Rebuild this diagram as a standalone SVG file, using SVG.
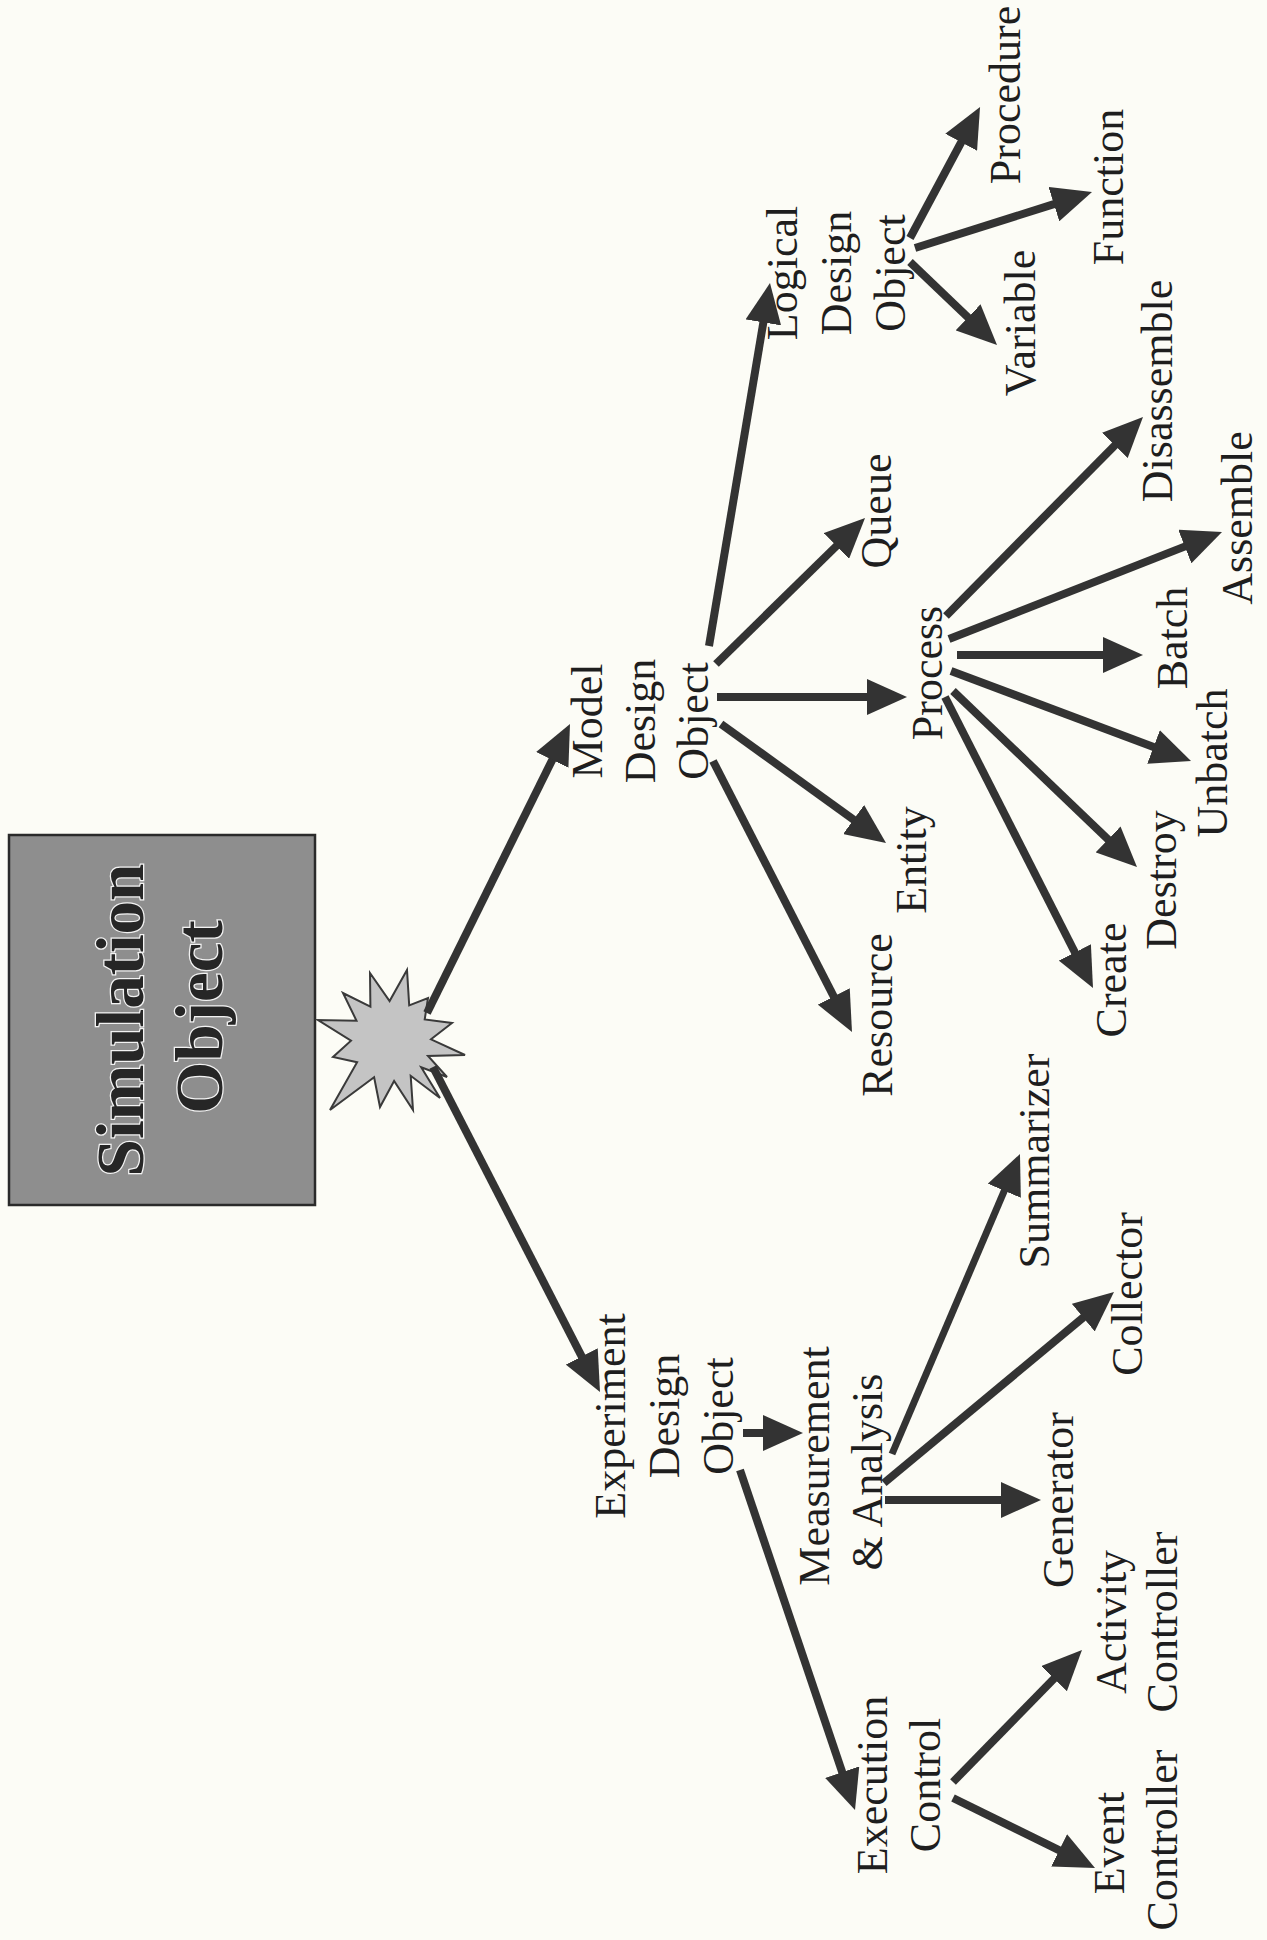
<svg xmlns="http://www.w3.org/2000/svg" width="1267" height="1940" viewBox="0 0 1267 1940">
<defs>
<style>
.lbl{font-family:"Liberation Serif","Times New Roman",serif;font-size:44px;fill:#1e1e1e;text-anchor:middle}
.title{font-family:"Liberation Serif","Times New Roman",serif;font-size:67px;font-weight:bold;fill:#262626;text-anchor:middle;stroke:#f2f2f2;stroke-width:2.5px;paint-order:stroke}
.conn line{stroke:#333;stroke-width:8;marker-end:url(#ah)}
</style>
<marker id="ah" markerUnits="userSpaceOnUse" markerWidth="40" markerHeight="36" viewBox="0 0 40 36" refX="10" refY="18" orient="auto">
<path d="M0,0 L40,18 L0,36 z" fill="#333"/>
</marker>
</defs>
<rect width="1267" height="1940" fill="#fcfcf6"/>

<g id="simulation-object">
<rect x="9" y="835" width="306" height="370" fill="#8e8e8e" stroke="#2a2a2a" stroke-width="2.5"/>
<text class="title" transform="translate(143,1020) rotate(-90)">Simulation</text>
<text class="title" transform="translate(222,1017) rotate(-90)">Object</text>
</g>

<g id="star">
<polygon points="370,973 389.6,1001 407,970 409.2,1005.4 428,998 424.7,1019.5 452,1023 431,1039.3 465,1055 428,1056 447,1077 421.2,1067.2 440,1098 410.7,1075.8 413,1110 394.1,1080.9 380,1107 374.1,1077.2 330,1110 357.1,1062.2 333,1057 351,1040.7 318,1020 356.5,1020.7 343,993 370.4,1006.7" fill="#c4c4c4" stroke="#3a3a3a" stroke-width="2" stroke-linejoin="miter"/>
</g>

<g id="connectors" class="conn">
<line x1="427" y1="1013" x2="556.7" y2="750.9"/>
<line x1="433" y1="1067" x2="586.3" y2="1365.3"/>
<line x1="709" y1="646" x2="765" y2="312.6"/>
<line x1="716" y1="664" x2="843.6" y2="539"/>
<line x1="717" y1="697" x2="877" y2="697"/>
<line x1="721" y1="724" x2="861.7" y2="825.4"/>
<line x1="713" y1="761" x2="838.3" y2="1005.3"/>
<line x1="946" y1="616" x2="1121.9" y2="438.3"/>
<line x1="949" y1="639" x2="1194.1" y2="542.9"/>
<line x1="957" y1="655" x2="1113" y2="655"/>
<line x1="951" y1="671" x2="1162.9" y2="750.5"/>
<line x1="953" y1="691" x2="1115.3" y2="846.3"/>
<line x1="945" y1="697" x2="1079.4" y2="961.3"/>
<line x1="910" y1="238" x2="965.9" y2="133.5"/>
<line x1="915" y1="248" x2="1063.4" y2="201.1"/>
<line x1="910" y1="262" x2="975.3" y2="324.3"/>
<line x1="743" y1="1433" x2="773" y2="1433"/>
<line x1="740" y1="1470" x2="845.4" y2="1781.6"/>
<line x1="892" y1="1454" x2="1008.2" y2="1181.6" style="stroke-width:7"/>
<line x1="884" y1="1483" x2="1090.9" y2="1311.2"/>
<line x1="885" y1="1500" x2="1011" y2="1500"/>
<line x1="953" y1="1782" x2="1061" y2="1671.5"/>
<line x1="953" y1="1798" x2="1068.1" y2="1854.7"/>
</g>

<g id="model-design-object">
<text class="lbl" transform="translate(602,721) rotate(-90)">Model</text>
<text class="lbl" transform="translate(655,721) rotate(-90)">Design</text>
<text class="lbl" transform="translate(708,721) rotate(-90)">Object</text>
</g>
<g id="logical-design-object">
<text class="lbl" transform="translate(797,273) rotate(-90)">Logical</text>
<text class="lbl" transform="translate(851,273) rotate(-90)">Design</text>
<text class="lbl" transform="translate(905,273) rotate(-90)">Object</text>
</g>
<g id="procedure"><text class="lbl" transform="translate(1020,95) rotate(-90)">Procedure</text></g>
<g id="function"><text class="lbl" transform="translate(1123,187) rotate(-90)">Function</text></g>
<g id="variable"><text class="lbl" transform="translate(1035,323) rotate(-90)">Variable</text></g>
<g id="queue"><text class="lbl" transform="translate(891,511) rotate(-90)">Queue</text></g>
<g id="process"><text class="lbl" transform="translate(942,673) rotate(-90)">Process</text></g>
<g id="disassemble"><text class="lbl" transform="translate(1172,391) rotate(-90)">Disassemble</text></g>
<g id="assemble"><text class="lbl" transform="translate(1252,518) rotate(-90)">Assemble</text></g>
<g id="batch"><text class="lbl" transform="translate(1187,638) rotate(-90)">Batch</text></g>
<g id="unbatch"><text class="lbl" transform="translate(1227,763) rotate(-90)">Unbatch</text></g>
<g id="destroy"><text class="lbl" transform="translate(1176,880) rotate(-90)">Destroy</text></g>
<g id="create"><text class="lbl" transform="translate(1126,980) rotate(-90)">Create</text></g>
<g id="entity"><text class="lbl" transform="translate(926,860) rotate(-90)">Entity</text></g>
<g id="resource"><text class="lbl" transform="translate(892,1015) rotate(-90)">Resource</text></g>

<g id="experiment-design-object">
<text class="lbl" transform="translate(625,1416) rotate(-90)">Experiment</text>
<text class="lbl" transform="translate(679,1416) rotate(-90)">Design</text>
<text class="lbl" transform="translate(733,1416) rotate(-90)">Object</text>
</g>
<g id="measurement-analysis">
<text class="lbl" transform="translate(829,1466) rotate(-90)">Measurement</text>
<text class="lbl" transform="translate(882,1472) rotate(-90)">&amp; Analysis</text>
</g>
<g id="summarizer"><text class="lbl" transform="translate(1049,1161) rotate(-90)">Summarizer</text></g>
<g id="collector"><text class="lbl" transform="translate(1142,1294) rotate(-90)">Collector</text></g>
<g id="generator"><text class="lbl" transform="translate(1073,1500) rotate(-90)">Generator</text></g>
<g id="execution-control">
<text class="lbl" transform="translate(887,1785) rotate(-90)">Execution</text>
<text class="lbl" transform="translate(940,1785) rotate(-90)">Control</text>
</g>
<g id="activity-controller">
<text class="lbl" transform="translate(1126,1622) rotate(-90)">Activity</text>
<text class="lbl" transform="translate(1177,1622) rotate(-90)">Controller</text>
</g>
<g id="event-controller">
<text class="lbl" transform="translate(1124,1843) rotate(-90)">Event</text>
<text class="lbl" transform="translate(1177,1840) rotate(-90)">Controller</text>
</g>
</svg>
